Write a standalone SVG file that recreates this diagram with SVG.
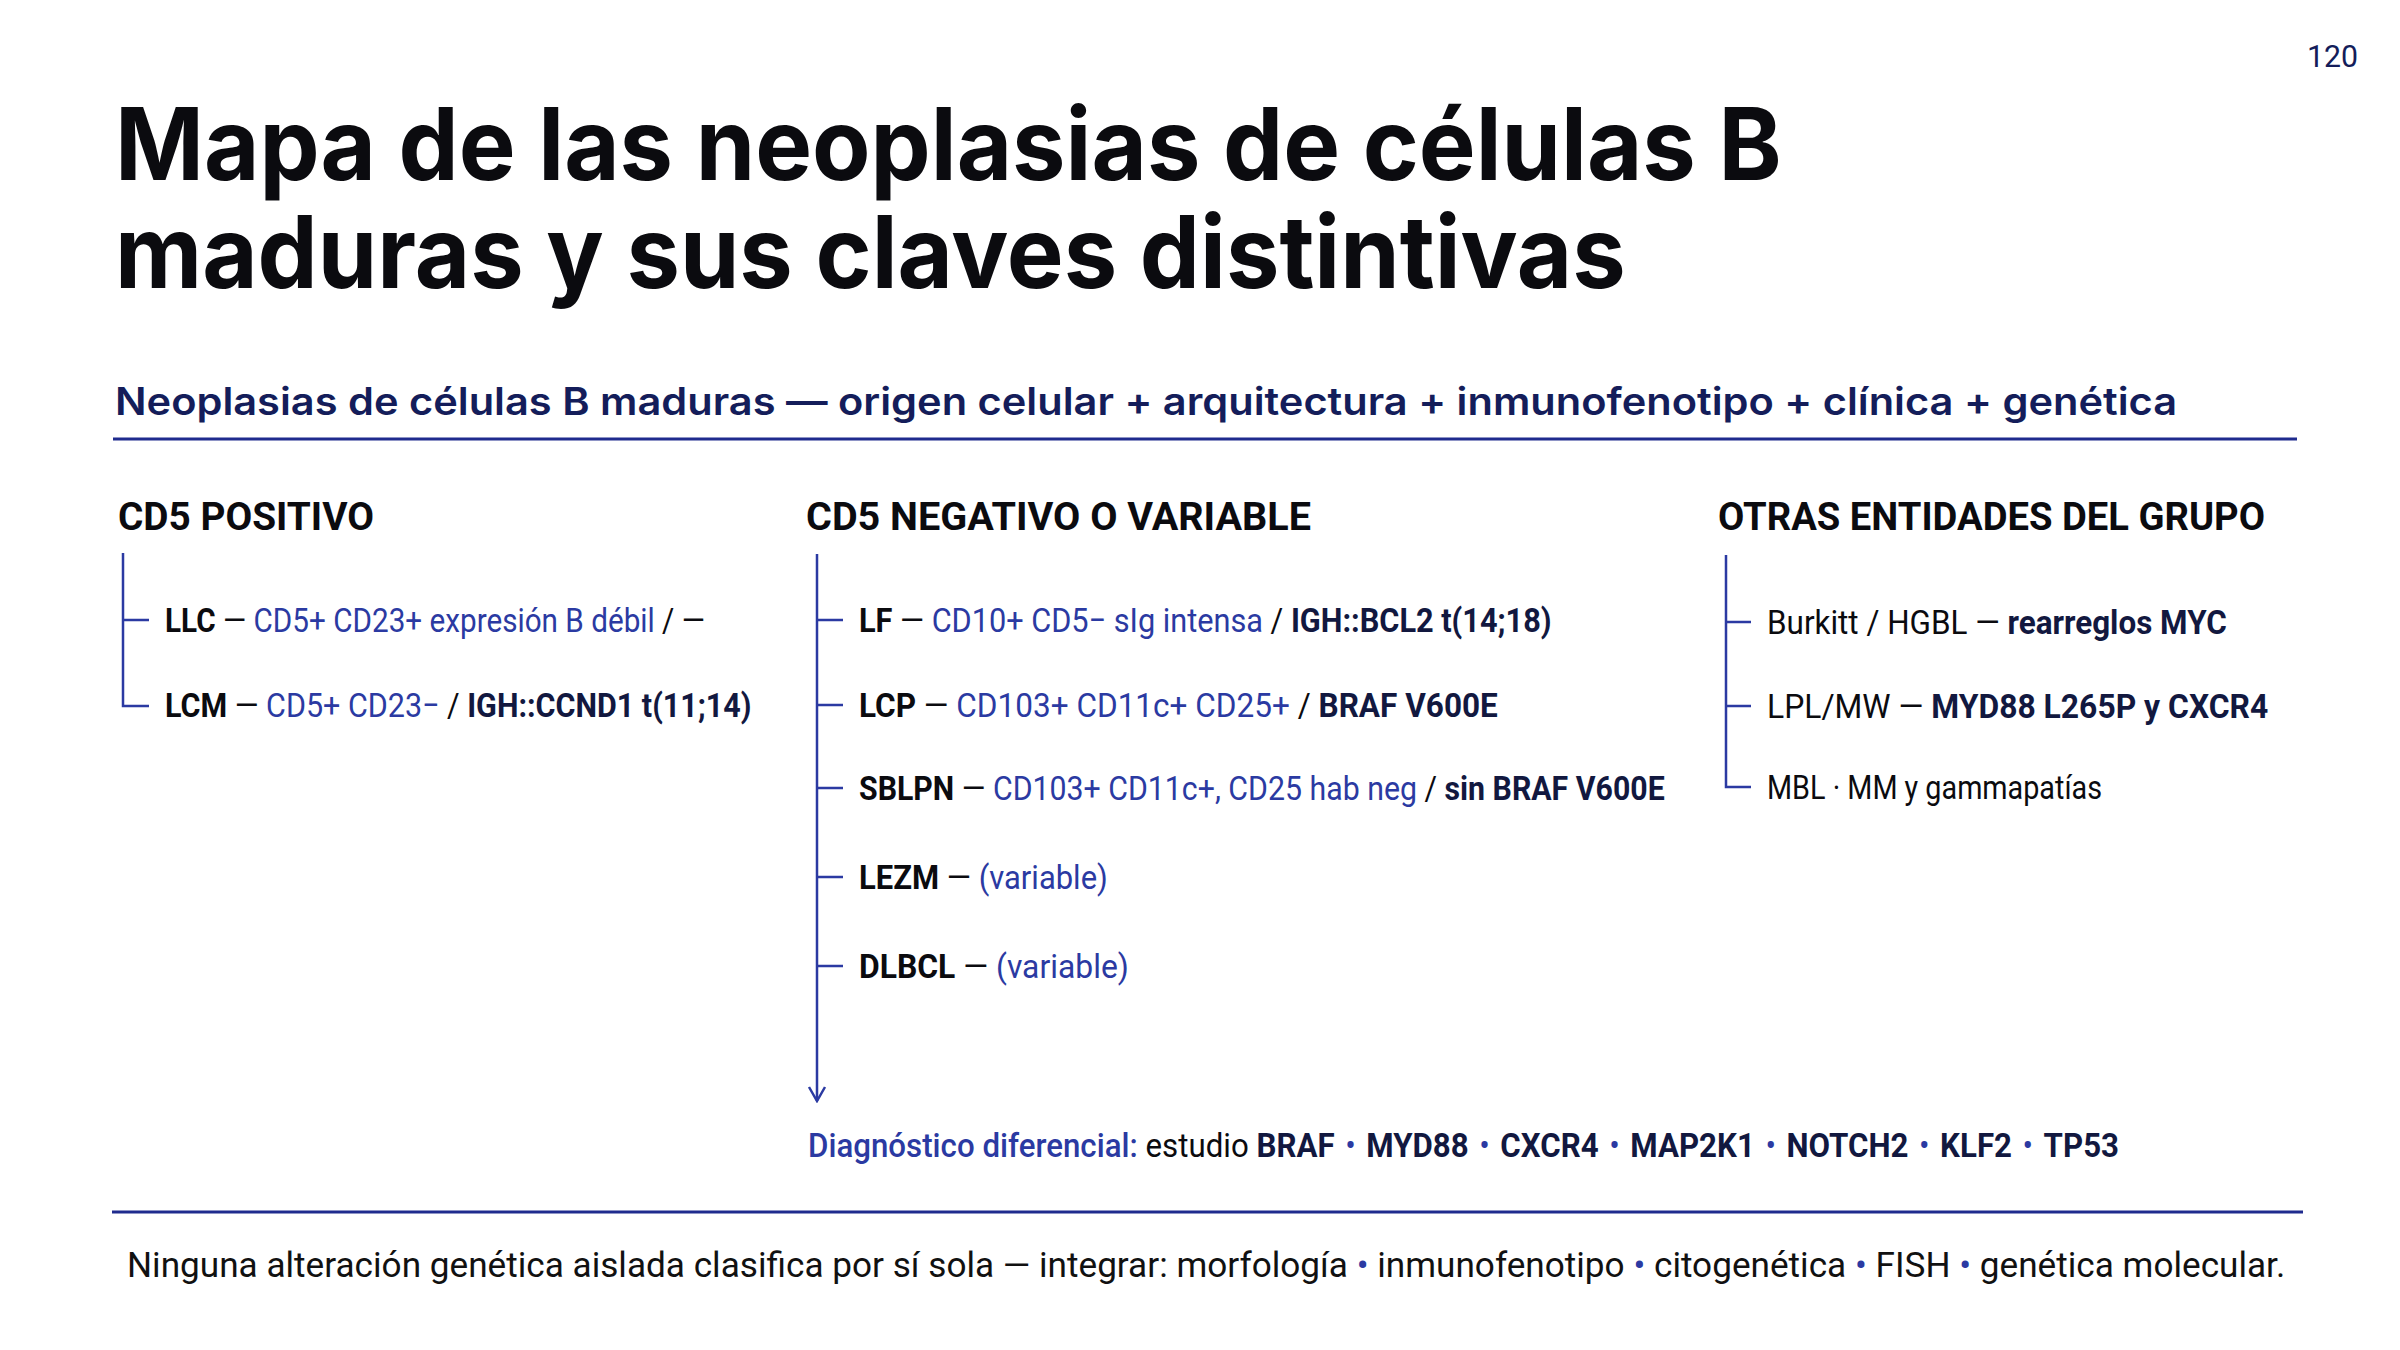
<svg xmlns="http://www.w3.org/2000/svg" width="2400" height="1350" viewBox="0 0 2400 1350">
<defs>
<style>
.title{font-family:Inter,"Noto Sans","Liberation Sans",sans-serif;font-weight:700;font-size:100px;fill:#0b0b0f}
.sub{font-family:Inter,"Noto Sans","Liberation Sans",sans-serif;font-weight:600;font-size:38px;fill:#141d5a}
.pg{font-family:Roboto,"Liberation Sans",sans-serif;font-size:32px;fill:#141d5a}
.hd{font-family:Roboto,"Liberation Sans",sans-serif;font-weight:700;font-size:38px;fill:#0b0b0f}
.it{font-family:Roboto,"Liberation Sans",sans-serif;font-size:34px;fill:#0b0b0f}
.b{font-weight:700}
.bl{fill:#2b3aa2}
.nv{fill:#12183f;font-weight:700}
.md{font-weight:500}
.ft{font-family:Roboto,"Liberation Sans",sans-serif;font-size:36px;fill:#111111}
.rule{stroke:#1f2b8e;stroke-width:3;fill:none}
.tree{stroke:#2b3aa2;stroke-width:2.5;fill:none}
</style>
<marker id="arr" viewBox="0 0 20 20" refX="18" refY="10" markerWidth="20" markerHeight="20" markerUnits="userSpaceOnUse" orient="auto">
<path d="M4 2 L18 10 L4 18" fill="none" stroke="#2b3aa2" stroke-width="2.5"/>
</marker>
</defs>
<rect width="2400" height="1350" fill="#ffffff"/>

<g id="header">
<text class="pg" x="2307" y="67" textLength="51" lengthAdjust="spacingAndGlyphs">120</text>
<text class="title" transform="translate(115,0) scale(0.955,1)"><tspan x="0" y="180">Mapa de las neoplasias de células B</tspan><tspan x="0" y="288">maduras y sus claves distintivas</tspan></text>
<text class="sub" x="115" y="415" textLength="2062" lengthAdjust="spacingAndGlyphs">Neoplasias de células B maduras — origen celular + arquitectura + inmunofenotipo + clínica + genética</text>
<line class="rule" x1="113" y1="439" x2="2297" y2="439"/>
</g>

<g id="connectors">
<path class="tree" d="M123 553 V706 H149 M123 620 H149"/>
<path class="tree" d="M817 554 V1101" marker-end="url(#arr)"/>
<path class="tree" d="M817 620 H843 M817 705 H843 M817 788 H843 M817 877 H843 M817 966 H843"/>
<path class="tree" d="M1726 555 V787 H1751 M1726 622 H1751 M1726 706 H1751"/>
</g>

<g id="col-cd5pos">
<text class="hd" x="118" y="530" textLength="256" lengthAdjust="spacingAndGlyphs">CD5 POSITIVO</text>
<g id="n-llc"><text class="it" transform="translate(165,632) scale(0.873,1)"><tspan class="b">LLC</tspan> — <tspan class="bl">CD5+ CD23+ expresión B débil</tspan> / —</text></g>
<g id="n-lcm"><text class="it" transform="translate(165,717) scale(0.897,1)"><tspan class="b">LCM</tspan> — <tspan class="bl">CD5+ CD23−</tspan> / <tspan class="nv">IGH::CCND1 t(11;14)</tspan></text></g>
</g>

<g id="col-cd5neg">
<text class="hd" x="806" y="530" textLength="505" lengthAdjust="spacingAndGlyphs">CD5 NEGATIVO O VARIABLE</text>
<g id="n-lf"><text class="it" transform="translate(859,632) scale(0.903,1)"><tspan class="b">LF</tspan> — <tspan class="bl">CD10+ CD5− sIg intensa</tspan> / <tspan class="nv">IGH::BCL2 t(14;18)</tspan></text></g>
<g id="n-lcp"><text class="it" transform="translate(859,717) scale(0.928,1)"><tspan class="b">LCP</tspan> — <tspan class="bl">CD103+ CD11c+ CD25+</tspan> / <tspan class="nv">BRAF V600E</tspan></text></g>
<g id="n-sblpn"><text class="it" transform="translate(859,800) scale(0.891,1)"><tspan class="b">SBLPN</tspan> — <tspan class="bl">CD103+ CD11c+, CD25 hab neg</tspan> / <tspan class="nv">sin BRAF V600E</tspan></text></g>
<g id="n-lezm"><text class="it" transform="translate(859,889) scale(0.911,1)"><tspan class="b">LEZM</tspan> — <tspan class="bl">(variable)</tspan></text></g>
<g id="n-dlbcl"><text class="it" transform="translate(859,978) scale(0.937,1)"><tspan class="b">DLBCL</tspan> — <tspan class="bl">(variable)</tspan></text></g>
<g id="n-dx"><text class="it" transform="translate(808,1157) scale(0.92,1)"><tspan class="bl md">Diagnóstico diferencial:</tspan> estudio <tspan class="nv">BRAF</tspan><tspan class="bl" dx="3"> • </tspan><tspan class="nv" dx="3">MYD88</tspan><tspan class="bl" dx="3"> • </tspan><tspan class="nv" dx="3">CXCR4</tspan><tspan class="bl" dx="3"> • </tspan><tspan class="nv" dx="3">MAP2K1</tspan><tspan class="bl" dx="3"> • </tspan><tspan class="nv" dx="3">NOTCH2</tspan><tspan class="bl" dx="3"> • </tspan><tspan class="nv" dx="3">KLF2</tspan><tspan class="bl" dx="3"> • </tspan><tspan class="nv" dx="3">TP53</tspan></text></g>
</g>

<g id="col-otras">
<text class="hd" x="1718" y="530" textLength="547" lengthAdjust="spacingAndGlyphs">OTRAS ENTIDADES DEL GRUPO</text>
<g id="n-burkitt"><text class="it" transform="translate(1767,634) scale(0.924,1)">Burkitt / HGBL — <tspan class="nv">rearreglos MYC</tspan></text></g>
<g id="n-lpl"><text class="it" transform="translate(1767,718) scale(0.937,1)">LPL/MW — <tspan class="nv">MYD88 L265P y CXCR4</tspan></text></g>
<g id="n-mbl"><text class="it" x="1767" y="799" textLength="335" lengthAdjust="spacingAndGlyphs">MBL · MM y gammapatías</text></g>
</g>

<g id="footer">
<line class="rule" x1="112" y1="1212" x2="2303" y2="1212"/>
<text class="ft" transform="translate(127,1277) scale(0.977,1)">Ninguna alteración genética aislada clasifica por sí sola — integrar: morfología <tspan class="bl">•</tspan> inmunofenotipo <tspan class="bl">•</tspan> citogenética <tspan class="bl">•</tspan> FISH <tspan class="bl">•</tspan> genética molecular.</text>
</g>
</svg>
